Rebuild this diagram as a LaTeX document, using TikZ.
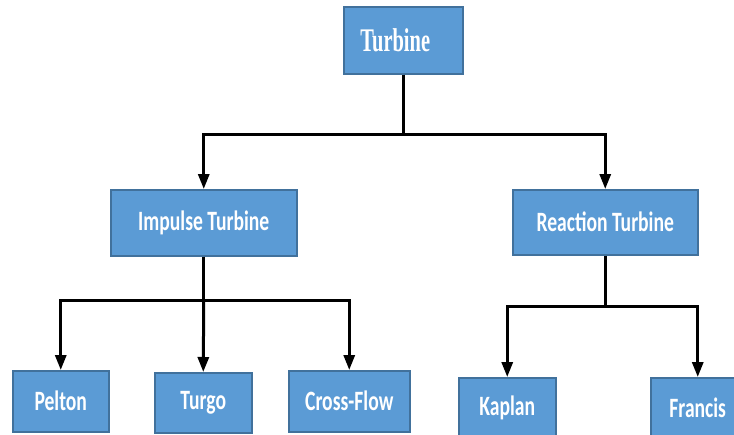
\documentclass[tikz,border=0pt]{standalone}
\usepackage{fontspec}
\usepackage{graphicx}
\setmainfont{Carlito}
\newfontfamily\titlefont{Liberation Serif}
\usetikzlibrary{arrows.meta}
\definecolor{boxfill}{HTML}{5B9BD5}
\definecolor{boxline}{HTML}{41719C}
\newcommand{\boxtxt}[1]{\scalebox{0.7}[1]{\fontsize{28}{30}\selectfont\bfseries #1}}
\newcommand{\toptxt}[1]{\scalebox{0.62}[1]{\titlefont\fontsize{33}{35}\selectfont\bfseries #1}}
\begin{document}
\begin{tikzpicture}[x=1pt,y=-1pt,
  tbox/.style={draw=boxline,fill=boxfill,line width=1.5pt,text=white,inner sep=0pt,anchor=north west},
  conn/.style={line width=3pt,draw=black},
  arr/.style={conn,-{Triangle[width=11pt,length=15pt]}}]
\clip (0,0) rectangle (734,434);
\fill[white] (0,0) rectangle (734,434);
\node[tbox,minimum width=119pt,minimum height=67pt] (turbine) at (343,6) {\toptxt{Turbine}\hspace*{16pt}};
\node[tbox,minimum width=186pt,minimum height=66pt] (impulse) at (110,189) {\boxtxt{Impulse Turbine}};
\node[tbox,minimum width=185pt,minimum height=65pt] (reaction) at (512,189) {\boxtxt{Reaction Turbine}};
\node[tbox,minimum width=96pt,minimum height=61pt] (pelton) at (12,370) {\boxtxt{Pelton}};
\node[tbox,minimum width=97pt,minimum height=60pt] (turgo) at (154,372) {\boxtxt{Turgo}};
\node[tbox,minimum width=121pt,minimum height=61pt] (cross) at (288,370) {\boxtxt{Cross-Flow}};
\node[tbox,minimum width=97pt,minimum height=61pt] (kaplan) at (458,377) {\boxtxt{Kaplan}};
\node[tbox,minimum width=94pt,minimum height=61pt] (francis) at (650,377) {\boxtxt{Francis}};
\coordinate (j1) at (turbine.south |- 0,134);
\coordinate (j2) at (impulse.south |- 0,300);
\coordinate (j3) at (reaction.south |- 0,306);
\draw[conn] (turbine.south) -- (j1);
\draw[arr] (j1) -| (impulse.north);
\draw[arr] (j1) -| (reaction.north);
\draw[conn] (impulse.south) -- (j2);
\draw[arr] (j2) -| (pelton.north);
\draw[arr] (j2) -- (turgo.north);
\draw[arr] (j2) -| (cross.north);
\draw[conn] (reaction.south) -- (j3);
\draw[arr] (j3) -| (kaplan.north);
\draw[arr] (j3) -| (francis.north);
\end{tikzpicture}
\end{document}
